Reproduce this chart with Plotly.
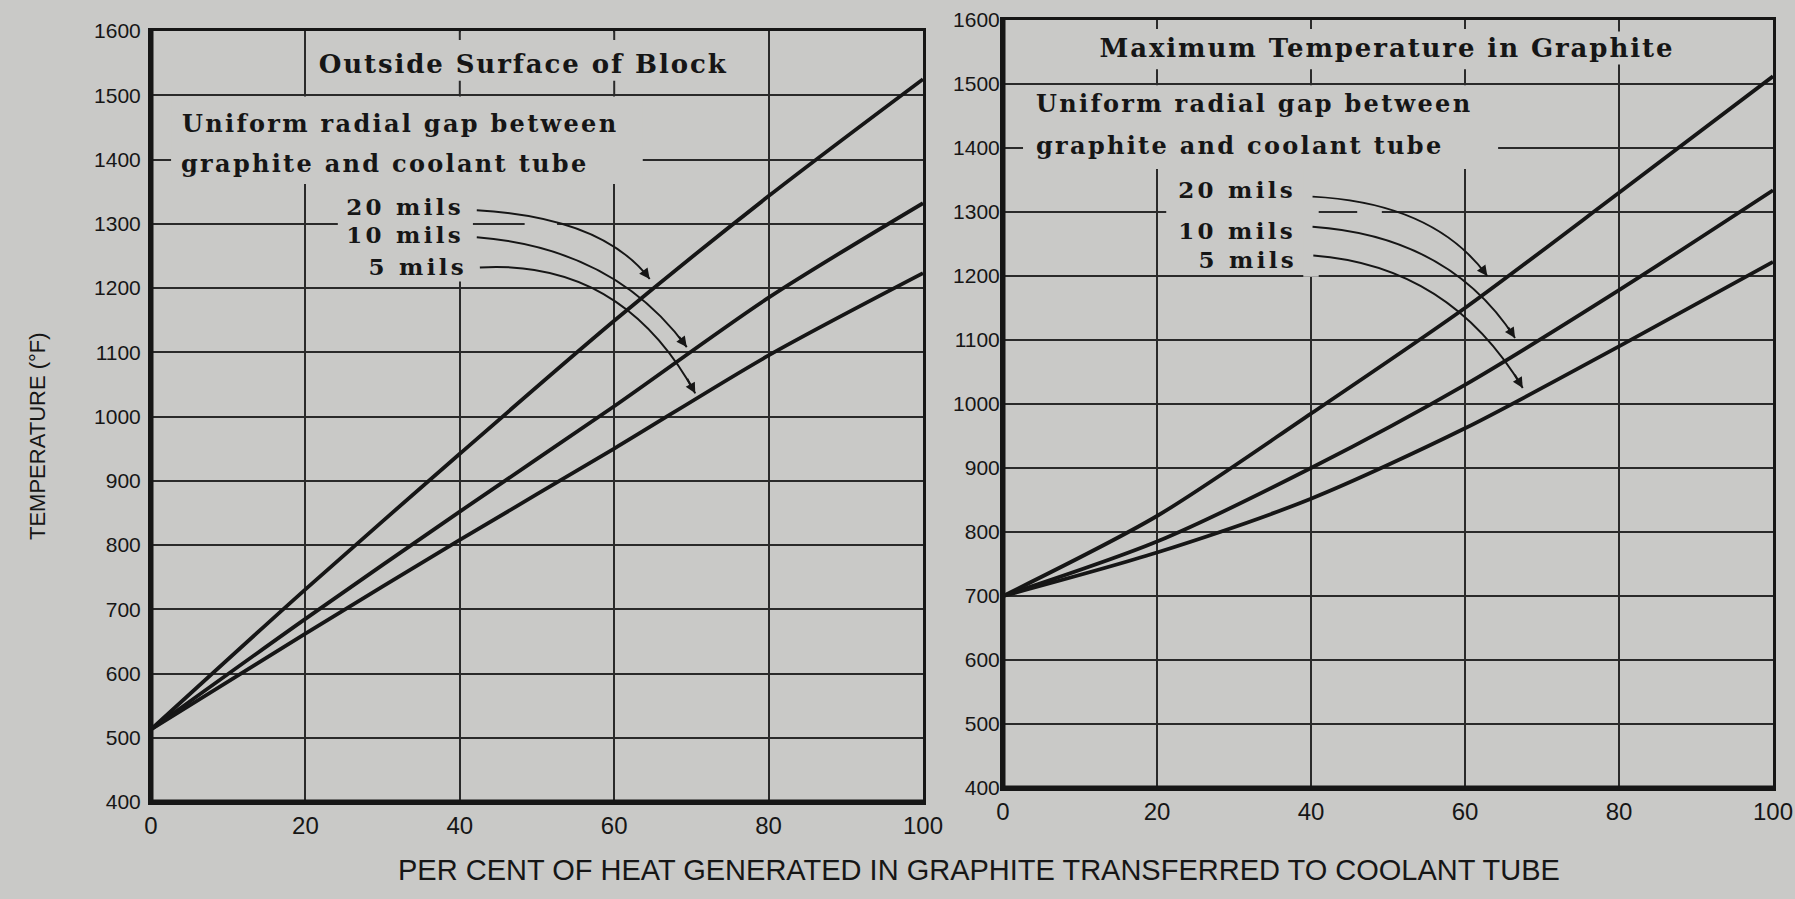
import json
import plotly.graph_objects as go

# ---------------- data ----------------
pct_heat = [0, 20, 40, 60, 80, 100]

# Outside Surface of Block (°F)
surf_20mils = [513, 731, 942, 1149, 1343, 1525]
surf_10mils = [513, 685, 852, 1016, 1185, 1332]
surf_5mils = [513, 662, 808, 950, 1095, 1223]

# Maximum Temperature in Graphite (°F)
max_20mils = [700, 825, 985, 1150, 1330, 1512]
max_10mils = [700, 785, 900, 1030, 1178, 1334]
max_5mils = [700, 768, 852, 962, 1090, 1222]

x_ticks = [0, 20, 40, 60, 80, 100]
y_ticks = list(range(400, 1700, 100))

series_labels = ["20 mils", "10 mils", "5 mils"]
panel_titles = ["Outside Surface of Block", "Maximum Temperature in Graphite"]
note_line1 = "Uniform radial gap between"
note_line2 = "graphite and coolant tube"
x_title = "PER CENT OF HEAT GENERATED IN GRAPHITE TRANSFERRED TO COOLANT TUBE"
y_title = "TEMPERATURE (°F)"

# ---------------- styling ----------------
BG = "#c9c9c7"
INK = "#161616"
GRID = "#2a2a2a"
SANS = "Liberation Sans Narrow, Arial Narrow, Liberation Sans, Arial, sans-serif"
SANS_W = "Liberation Sans, Arial, sans-serif"
SERIF = "DejaVu Serif, Liberation Serif, serif"

fig = go.Figure()

for xs, ys, xa, ya in [
    (pct_heat, surf_20mils, "x", "y"),
    (pct_heat, surf_10mils, "x", "y"),
    (pct_heat, surf_5mils, "x", "y"),
    (pct_heat, max_20mils, "x2", "y2"),
    (pct_heat, max_10mils, "x2", "y2"),
    (pct_heat, max_5mils, "x2", "y2"),
]:
    fig.add_trace(go.Scatter(
        x=xs, y=ys, xaxis=xa, yaxis=ya, mode="lines",
        line=dict(color=INK, width=3.8, shape="spline", smoothing=0.8),
        showlegend=False, hoverinfo="skip"))

def xaxis_style(domain, anchor):
    return dict(domain=domain, anchor=anchor, range=[0, 100], tickvals=x_ticks,
                showgrid=True, gridcolor=GRID, gridwidth=2, zeroline=False,
                showline=True, mirror=True, linecolor=INK, linewidth=3,
                ticks="", ticklabelstandoff=0, automargin=False,
                tickfont=dict(family=SANS_W, size=24, color=INK), fixedrange=True)

def yaxis_style(domain, anchor, standoff):
    return dict(domain=domain, anchor=anchor, range=[400, 1600], tickvals=y_ticks,
                showgrid=True, gridcolor=GRID, gridwidth=2, zeroline=False,
                showline=True, mirror=True, linecolor=INK, linewidth=3,
                ticks="", ticklabelstandoff=standoff, automargin=False,
                tickfont=dict(family=SANS, size=21, color=INK), fixedrange=True)

W, H = 1795, 899
fig.update_layout(
    width=W, height=H, margin=dict(l=0, r=0, t=0, b=0, autoexpand=False),
    paper_bgcolor=BG, plot_bgcolor=BG, showlegend=False,
    xaxis=xaxis_style([151 / W, 923 / W], "y"),
    yaxis=yaxis_style([1 - 802 / H, 1 - 31 / H], "x", 3),
    xaxis2=xaxis_style([1003 / W, 1773 / W], "y2"),
    yaxis2=yaxis_style([1 - 788 / H, 1 - 20 / H], "x2", -4),
)

shapes = []
def mask(xr, yr, x0, x1, y0, y1):
    shapes.append(dict(type="rect", xref=xr, yref=yr, x0=x0, x1=x1, y0=y0, y1=y1,
                       fillcolor=BG, line=dict(width=0), layer="between"))

def seg(xr, yr, x0, y0, x1, y1, w=2, color=GRID, layer="between"):
    shapes.append(dict(type="line", xref=xr, yref=yr, x0=x0, y0=y0, x1=x1, y1=y1,
                       line=dict(color=color, width=w), layer=layer))

# left panel: blank title band and note area
mask("x", "y", 20.4, 79.6, 1502, 1598)
mask("x", "y", 2.6, 63.7, 1362, 1498)
mask("x", "y", 39, 41, 1210, 1362)
mask("x", "y", 24.2, 41.7, 1290, 1310)
mask("x", "y", 48.4, 52.6, 1290, 1310)
for xv in [40, 60]:
    seg("x", "y", xv, 1600, xv, 1586)
    seg("x", "y", xv, 1500, xv, 1523)

# right panel
mask("x2", "y2", 0.4, 79.6, 1502, 1598)
mask("x2", "y2", 80.4, 99.6, 1502, 1598)
mask("x2", "y2", 2.6, 64.3, 1367, 1498)
mask("x2", "y2", 39, 41, 1199, 1367)
mask("x2", "y2", 21.2, 40, 1290, 1310)
mask("x2", "y2", 46, 49.2, 1290, 1310)
for xv in [20, 40, 60]:
    seg("x2", "y2", xv, 1600, xv, 1586)
    seg("x2", "y2", xv, 1500, xv, 1523)

# heavier left and bottom axis lines
for xr, yr in [("x domain", "y domain"), ("x2 domain", "y2 domain")]:
    shapes.append(dict(type="line", xref=xr, yref=yr, x0=0, x1=0, y0=0, y1=1,
                       line=dict(color=INK, width=5), layer="above"))
    shapes.append(dict(type="line", xref=xr, yref=yr, x0=0, x1=1, y0=0, y1=0,
                       line=dict(color=INK, width=5), layer="above"))

annotations = []

# curved leader arrows: (xref, yref, start, control, tip)
leaders = [
    ("x", "y", (42.2, 1321), (58.5, 1310), (64.6, 1214)),
    ("x", "y", (42.2, 1279), (60.0, 1262), (69.4, 1108)),
    ("x", "y", (42.6, 1232), (61.0, 1245), (70.5, 1036)),
    ("x2", "y2", (40.2, 1324), (56.0, 1314), (62.9, 1200)),
    ("x2", "y2", (40.2, 1277), (58.0, 1262), (66.5, 1103)),
    ("x2", "y2", (40.3, 1232), (58.0, 1216), (67.5, 1025)),
]
for xr, yr, p0, c, p2 in leaders:
    shapes.append(dict(type="path", xref=xr, yref=yr,
                       path=f"M {p0[0]},{p0[1]} Q {c[0]},{c[1]} {p2[0]},{p2[1]}",
                       line=dict(color=INK, width=1.9), layer="above"))
    tail = (p2[0] - 0.12 * (p2[0] - c[0]), p2[1] - 0.12 * (p2[1] - c[1]))
    annotations.append(dict(xref=xr, yref=yr, x=p2[0], y=p2[1], axref=xr, ayref=yr,
                            ax=tail[0], ay=tail[1], text="", showarrow=True,
                            arrowhead=2, arrowsize=1.1, arrowwidth=1.9,
                            arrowcolor=INK, standoff=0))

spacing = {}
def text(xr, yr, x, y, s, anchor="left", size=24, ls=2.3, bg=True):
    f = dict(family=SERIF, size=size, color=INK, weight="bold")
    a = dict(xref=xr, yref=yr, x=x, y=y, text=s, showarrow=False,
             xanchor=anchor, yanchor="middle", font=f, borderpad=1)
    if bg:
        a["bgcolor"] = BG
    annotations.append(a)
    spacing[s] = [ls, anchor]

# left panel texts
text("x", "y", 48.1, 1549, panel_titles[0], "center", 26, 1.9)
text("x", "y", 3.7, 1456, note_line1)
text("x", "y", 3.6, 1393, note_line2)
text("x", "y", 40.4, 1327, series_labels[0], "right", 23, 3.3, False)
text("x", "y", 40.4, 1283, series_labels[1], "right", 23, 3.3, False)
text("x", "y", 40.8, 1233, series_labels[2], "right", 23, 3.3, False)

# right panel texts
text("x2", "y2", 49.8, 1556, panel_titles[1], "center", 26, 1.9)
text("x2", "y2", 4.0, 1469, note_line1)
text("x2", "y2", 4.0, 1404, note_line2)
text("x2", "y2", 37.9, 1335, series_labels[0], "right", 23, 3.3, False)
text("x2", "y2", 37.9, 1271, series_labels[1], "right", 23, 3.3, False)
text("x2", "y2", 38.1, 1226, series_labels[2], "right", 23, 3.3, False)

# axis titles
annotations.append(dict(xref="paper", yref="paper", x=979 / W, y=1 - 870 / H,
                        text=x_title, showarrow=False, xanchor="center", yanchor="middle",
                        font=dict(family=SANS_W, size=29, color=INK)))
annotations.append(dict(xref="paper", yref="paper", x=38 / W, y=1 - 436 / H,
                        text=y_title, showarrow=False, textangle=-90,
                        xanchor="center", yanchor="middle",
                        font=dict(family=SANS_W, size=22, color=INK)))

fig.update_layout(shapes=shapes, annotations=annotations)

post = """
document.body.style.margin='0';
document.body.style.background='%s';
document.body.style.overflow='hidden';
var spec = %s;
document.querySelectorAll('text.annotation-text').forEach(function(t){
  var s = t.textContent;
  if (!(s in spec)) return;
  var ls = spec[s][0], anc = spec[s][1];
  var b0 = t.getBBox();
  t.style.letterSpacing = ls + 'px';
  var b1 = t.getBBox();
  var dx;
  if (anc === 'left') { dx = b0.x - b1.x; }
  else if (anc === 'right') { dx = (b0.x + b0.width) - (b1.x + b1.width) + ls; }
  else { dx = (b0.x + b0.width / 2) - (b1.x + b1.width / 2) + ls / 2; }
  var tr = t.getAttribute('transform') || '';
  t.setAttribute('transform', tr + ' translate(' + dx + ',0)');
});
""" % (BG, json.dumps(spacing))

fig.write_html("out.html", config={"displayModeBar": False}, post_script=post)
